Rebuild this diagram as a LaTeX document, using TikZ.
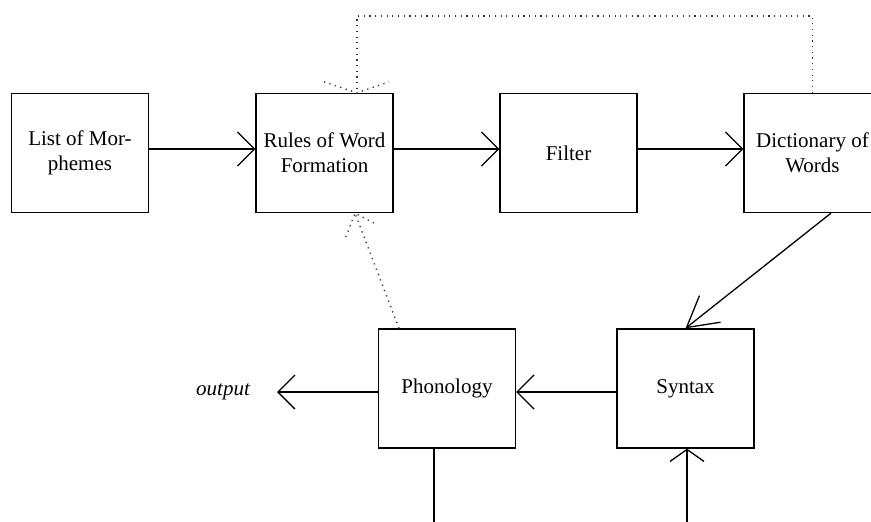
\documentclass[tikz,border=0pt]{standalone}
\usepackage{fontspec}
\setmainfont{Liberation Serif}
\usetikzlibrary{arrows.meta}
\begin{document}
\begin{tikzpicture}[x=1pt,y=-1pt,
  box/.style={draw, line width=1.3pt, minimum width=137pt, minimum height=119pt,
    inner sep=0pt, align=center, font=\fontsize{21}{25}\selectfont},
  conn/.style={line width=1.3pt, -{Straight Barb[length=17pt,width=34pt]}},
  dotline/.style={line width=1.4pt, black!80, dash pattern=on 1.2pt off 4.5pt}]
\useasboundingbox (0,0) rectangle (871,522);

\node[box] (morph)  at (80,153)    {List of Mor-\\phemes};
\node[box] (rules)  at (324.5,153) {Rules of Word\\Formation};
\node[box] (filter) at (568.5,153) {Filter};
\node[box] (dict)   at (812.5,153) {Dictionary of\\Words};
\node[box] (phon)   at (447,388.5) {Phonology};
\node[box] (syntax) at (685.5,388.5) {Syntax};
\node[font=\fontsize{21}{25}\selectfont\itshape] (out) at (223,392) {output};

% solid connectors
\draw[conn] ([yshift=4pt]morph.east) -- ([yshift=4pt]rules.west);
\draw[conn] ([yshift=4pt]rules.east) -- ([yshift=4pt]filter.west);
\draw[conn] ([yshift=4pt]filter.east) -- ([yshift=4pt]dict.west);
\draw[line width=1.3pt, -{Straight Barb[length=30pt,width=34pt]}]
  ([xshift=18.5pt]dict.south) -- (syntax.north);
\draw[conn] ([yshift=-3.5pt]syntax.west) -- ([yshift=-3.5pt]phon.east);
\draw[conn] ([yshift=-3.5pt]phon.west) -- (out.east -| 277,0);

\coordinate (pbot) at (434,522);
\coordinate (sbot) at (687,522);
\draw[line width=1.3pt] ([xshift=-13pt]phon.south) -- (pbot);
\draw[line width=1.3pt, -{Straight Barb[length=12pt,width=34pt]}] (sbot) -- ([xshift=1.5pt]syntax.south);

% dotted feedback from Dictionary to Rules
\coordinate (fcorner) at (357,16);
\coordinate (ftip) at ([xshift=32.5pt]rules.north);
\draw[dotline] (dict.north) |- (fcorner) -- (ftip);
\draw[dotline] ([shift={(-33pt,11pt)}]ftip) -- (ftip) -- ([shift={(32pt,11pt)}]ftip);

% dotted feedback from Phonology to Rules
\coordinate (btip) at ([xshift=30.5pt]rules.south);
\draw[dotline] ([xshift=-48pt]phon.north) -- (btip);
\draw[dotline] ([shift={(-9.2pt,-23.8pt)}]btip) -- (btip) -- ([shift={(22.6pt,-11.8pt)}]btip);
\end{tikzpicture}
\end{document}
